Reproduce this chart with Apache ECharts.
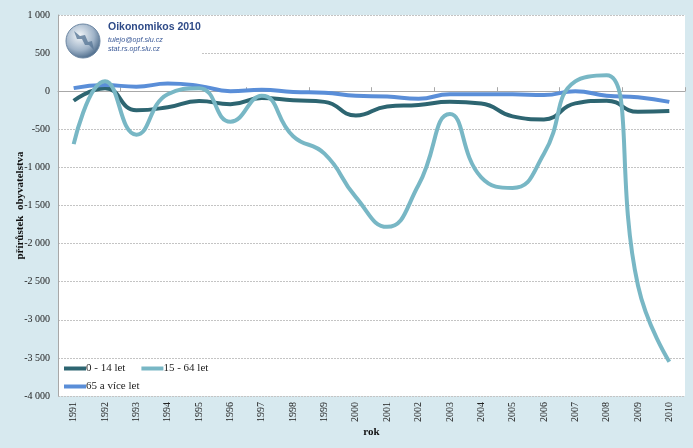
<!DOCTYPE html>
<html><head><meta charset="utf-8">
<script src="https://cdn.jsdelivr.net/npm/echarts@6/dist/echarts.min.js"></script>
<style>html,body{margin:0;padding:0;background:#d7e9ef}#c{width:693px;height:448px}</style>
</head><body><div id="c"></div>
<script>
const years = ['1991','1992','1993','1994','1995','1996','1997','1998','1999','2000','2001','2002','2003','2004','2005','2006','2007','2008','2009','2010'];
const age0_14 = [-125, 40, -250, -210, -130, -170, -90, -120, -140, -320, -200, -180, -140, -160, -330, -370, -160, -125, -270, -260];
const age15_64 = [-695, 130, -570, -40, 40, -400, -60, -590, -820, -1390, -1780, -1230, -300, -1130, -1270, -820, 130, 210, -2550, -3550];
const age65 = [40, 80, 60, 100, 70, 0, 20, -10, -20, -60, -70, -100, -40, -40, -40, -50, 0, -60, -80, -140];
const seriesNames = ['0 - 14 let', '15 - 64 let', '65 a více let'];
const yTicks = {min: -4000, max: 1000, interval: 500};

const colors = ['#2d6571', '#78b7c5', '#5a8ed8'];
const serif = '"Liberation Serif", "DejaVu Serif", serif';
const chart = echarts.init(document.getElementById('c'));
function fmt(v){
  const s = Math.abs(v).toString().replace(/\B(?=(\d{3})+(?!\d))/g, ' ');
  return (v < 0 ? '-' : '') + s;
}
const data = [age0_14, age15_64, age65];
chart.setOption({
  backgroundColor: '#d7e9ef',
  animation: false,
  grid: {left: 58, right: 8, top: 15, bottom: 52, show: true, backgroundColor: '#ffffff', borderWidth: 0, outerBoundsMode: 'none', containLabel: false},
  legend: [
    {data: [seriesNames[0], seriesNames[1]], left: 59, top: 358, orient: 'horizontal', itemWidth: 22, itemHeight: 4, icon: 'rect', itemGap: 16,
      textStyle: {fontFamily: serif, fontSize: 11, color: '#222', padding: [0,0,0,-5]}},
    {data: [seriesNames[2]], left: 59, top: 376, itemWidth: 22, itemHeight: 4, icon: 'rect',
      textStyle: {fontFamily: serif, fontSize: 11, color: '#222', padding: [0,0,0,-5]}}
  ],
  xAxis: [
    {type: 'category', data: years, boundaryGap: true, position: 'bottom',
      axisLine: {show: false, onZero: false}, axisTick: {show: false},
      axisLabel: {rotate: 90, fontFamily: serif, fontSize: 10, color: '#222', margin: 6},
      name: 'rok', nameLocation: 'middle', nameGap: 31, nameMoveOverlap: false,
      nameTextStyle: {fontFamily: serif, fontSize: 11, fontWeight: 'bold', color: '#111'}},
    {type: 'category', data: years, boundaryGap: true, position: 'top',
      axisLine: {show: true, onZero: true, lineStyle: {color: '#a8a8a8', width: 1}},
      axisTick: {show: true, inside: false, length: 4, lineStyle: {color: '#a8a8a8'}},
      axisLabel: {show: false}, splitLine: {show: false}}
  ],
  yAxis: {type: 'value', min: yTicks.min, max: yTicks.max, interval: yTicks.interval,
    axisLine: {show: true, lineStyle: {color: '#a8a8a8'}},
    axisTick: {show: false},
    axisLabel: {fontFamily: serif, fontSize: 10, color: '#222', margin: 8, formatter: fmt},
    splitLine: {lineStyle: {color: '#c4c4c4', type: [2, 1], width: 1}},
    name: 'přírůstek  obyvatelstva', nameLocation: 'middle', nameGap: 32, nameRotate: 90, nameMoveOverlap: false,
    nameTextStyle: {fontFamily: serif, fontSize: 11, fontWeight: 'bold', color: '#111'}},
  series: seriesNames.map((n, i) => ({
    name: n, type: 'line', data: data[i], xAxisIndex: 0, smooth: 0.5, symbol: 'none',
    lineStyle: {color: colors[i], width: 4}, itemStyle: {color: colors[i]}, z: [3, 5, 4][i]
  })),
  graphic: [
    {type: 'rect', shape: {x: 59, y: 19, width: 142, height: 40}, style: {fill: '#ffffff'}, z: 1},
    {type: 'circle', shape: {cx: 83, cy: 41, r: 17},
      style: {fill: new echarts.graphic.RadialGradient(0.4, 0.35, 0.7, [
        {offset: 0, color: '#f4f7fa'}, {offset: 0.6, color: '#9fb3c8'}, {offset: 1, color: '#3f5f80'}]),
        stroke: '#6d87a3', lineWidth: 1}, z: 5},
    {type: 'polygon', shape: {points: [[74, 31], [80, 36], [85, 35], [88, 42], [92, 41], [94, 50], [89, 45], [85, 45], [82, 39], [77, 39]]},
      style: {fill: '#5a7897', opacity: 0.8}, z: 6},
    {type: 'text', left: 108, top: 22, style: {text: 'Oikonomikos 2010', fontFamily: '"Liberation Sans", sans-serif', fontWeight: 'bold', fontSize: 10.5, fill: '#2f4b88'}, z: 6},
    {type: 'text', left: 108, top: 36, style: {text: 'tulejo@opf.slu.cz', fontFamily: '"Liberation Sans", sans-serif', fontStyle: 'italic', fontSize: 7.2, fill: '#3b5a98'}, z: 6},
    {type: 'text', left: 108, top: 45, style: {text: 'stat.rs.opf.slu.cz', fontFamily: '"Liberation Sans", sans-serif', fontStyle: 'italic', fontSize: 7.2, fill: '#3b5a98'}, z: 6}
  ]
});
</script></body></html>
